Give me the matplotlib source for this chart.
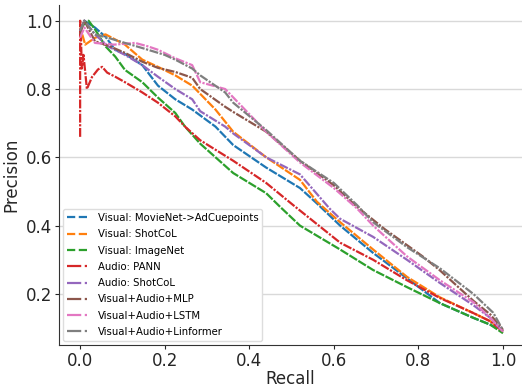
import matplotlib.pyplot as plt
from matplotlib.lines import Line2D

plt.rcParams['font.family'] = ['DejaVu Sans']

# Precision / recall points
movienet_r = [0.0, 0.01, 0.035, 0.06, 0.083, 0.11, 0.147, 0.184, 0.225, 0.265, 0.32, 0.362, 0.44, 0.52, 0.56, 0.615, 0.693, 0.773, 0.851, 0.93, 0.97, 1.0]
movienet_p = [0.97, 1.0, 0.98, 0.953, 0.915, 0.9, 0.87, 0.81, 0.77, 0.74, 0.69, 0.636, 0.57, 0.51, 0.465, 0.40, 0.32, 0.246, 0.173, 0.13, 0.11, 0.09]

shotcol_v_r = [0.0, 0.005, 0.012, 0.035, 0.06, 0.106, 0.147, 0.184, 0.225, 0.265, 0.32, 0.362, 0.44, 0.52, 0.56, 0.615, 0.693, 0.773, 0.851, 0.93, 0.97, 1.0]
shotcol_v_p = [0.99, 0.96, 0.93, 0.95, 0.96, 0.93, 0.886, 0.865, 0.84, 0.81, 0.74, 0.675, 0.60, 0.534, 0.47, 0.41, 0.33, 0.25, 0.19, 0.144, 0.12, 0.09]

imagenet_r = [0.0, 0.02, 0.035, 0.06, 0.083, 0.106, 0.147, 0.184, 0.225, 0.248, 0.284, 0.362, 0.44, 0.473, 0.52, 0.615, 0.693, 0.773, 0.851, 0.93, 0.97, 1.0]
imagenet_p = [0.98, 1.0, 0.975, 0.925, 0.895, 0.856, 0.82, 0.775, 0.73, 0.69, 0.64, 0.554, 0.495, 0.455, 0.40, 0.33, 0.27, 0.22, 0.173, 0.13, 0.11, 0.085]

pann_r = [0.0, 0.0, 0.002, 0.004, 0.008, 0.016, 0.028, 0.042, 0.052, 0.064, 0.083, 0.106, 0.147, 0.184, 0.225, 0.248, 0.284, 0.362, 0.44, 0.504, 0.615, 0.693, 0.773, 0.851, 0.93, 0.97, 1.0]
pann_p = [0.66, 1.0, 0.95, 0.86, 0.9, 0.80, 0.835, 0.857, 0.865, 0.848, 0.836, 0.82, 0.79, 0.76, 0.72, 0.69, 0.65, 0.59, 0.525, 0.46, 0.35, 0.30, 0.24, 0.188, 0.144, 0.12, 0.09]

shotcol_a_r = [0.0, 0.01, 0.035, 0.066, 0.106, 0.147, 0.184, 0.225, 0.265, 0.284, 0.343, 0.362, 0.44, 0.52, 0.59, 0.615, 0.693, 0.773, 0.851, 0.93, 0.97, 1.0]
shotcol_a_p = [0.97, 1.0, 0.96, 0.925, 0.9, 0.87, 0.836, 0.80, 0.77, 0.735, 0.69, 0.67, 0.60, 0.55, 0.45, 0.42, 0.367, 0.30, 0.232, 0.167, 0.13, 0.09]

mlp_r = [0.0, 0.01, 0.035, 0.07, 0.106, 0.147, 0.184, 0.225, 0.265, 0.284, 0.343, 0.362, 0.44, 0.52, 0.598, 0.655, 0.72, 0.81, 0.85, 0.93, 0.97, 1.0]
mlp_p = [0.96, 1.0, 0.94, 0.925, 0.906, 0.88, 0.862, 0.85, 0.833, 0.80, 0.748, 0.733, 0.675, 0.59, 0.52, 0.455, 0.39, 0.31, 0.27, 0.18, 0.14, 0.095]

lstm_r = [0.0, 0.01, 0.035, 0.08, 0.13, 0.16, 0.184, 0.225, 0.265, 0.284, 0.343, 0.44, 0.52, 0.60, 0.655, 0.693, 0.773, 0.851, 0.93, 0.97, 1.0]
lstm_p = [0.95, 0.98, 0.935, 0.93, 0.935, 0.925, 0.915, 0.89, 0.87, 0.82, 0.80, 0.675, 0.585, 0.51, 0.45, 0.40, 0.31, 0.24, 0.176, 0.13, 0.09]

linformer_r = [0.0, 0.01, 0.035, 0.066, 0.106, 0.147, 0.20, 0.225, 0.265, 0.284, 0.343, 0.362, 0.44, 0.52, 0.60, 0.655, 0.693, 0.773, 0.851, 0.93, 0.977, 1.0]
linformer_p = [0.97, 1.0, 0.96, 0.95, 0.935, 0.92, 0.90, 0.886, 0.86, 0.84, 0.79, 0.76, 0.68, 0.59, 0.525, 0.46, 0.41, 0.337, 0.275, 0.20, 0.145, 0.094]

labels = ['Visual: MovieNet->AdCuepoints', 'Visual: ShotCoL', 'Visual: ImageNet',
          'Audio: PANN', 'Audio: ShotCoL', 'Visual+Audio+MLP',
          'Visual+Audio+LSTM', 'Visual+Audio+Linformer']
curves = [(movienet_r, movienet_p), (shotcol_v_r, shotcol_v_p), (imagenet_r, imagenet_p),
          (pann_r, pann_p), (shotcol_a_r, shotcol_a_p), (mlp_r, mlp_p),
          (lstm_r, lstm_p), (linformer_r, linformer_p)]
styles = ['--', '--', '--', '-.', '-.', '-.', '-.', '-.']
colors = ['tab:blue', 'tab:orange', 'tab:green', 'tab:red', 'tab:purple', 'tab:brown', 'tab:pink', 'tab:gray']

# the dense curves look almost solid in the original, so use tight dashes on the plot
plot_dashes = {'--': (4, 0.7), '-.': (4, 0.7, 1, 0.7)}

fig = plt.figure(figsize=(5.22, 3.89), dpi=100)
ax = fig.add_axes([0.113, 0.113, 0.887, 0.875])

handles = []
for (r, p), lab, ls, c in zip(curves, labels, styles, colors):
    ax.plot(r, p, color=c, lw=1.6, dashes=plot_dashes[ls])
    handles.append(Line2D([], [], color=c, lw=1.6, linestyle=ls, label=lab))

ax.set_xlim(-0.05, 1.045)
ax.set_ylim(0.0504, 1.047)
ax.set_xticks([0.0, 0.2, 0.4, 0.6, 0.8, 1.0])
ax.set_yticks([0.2, 0.4, 0.6, 0.8, 1.0])
ax.tick_params(labelsize=12, colors='#262626', length=3, pad=2)
ax.set_xlabel('Recall', fontsize=12, color='#262626', labelpad=0)
ax.set_ylabel('Precision', fontsize=12, color='#262626', labelpad=4)
ax.grid(axis='y', color='#d9d9d9', lw=1)
ax.set_axisbelow(True)
for s in ['top', 'right']:
    ax.spines[s].set_visible(False)
for s in ['left', 'bottom']:
    ax.spines[s].set_color('#333333')

ax.legend(handles=handles, loc='lower left', fontsize=7.3, frameon=True, framealpha=1,
          edgecolor='#dddddd', handlelength=2.2, labelspacing=0.62, borderaxespad=0.4)

fig.savefig('out.png', dpi=100)
